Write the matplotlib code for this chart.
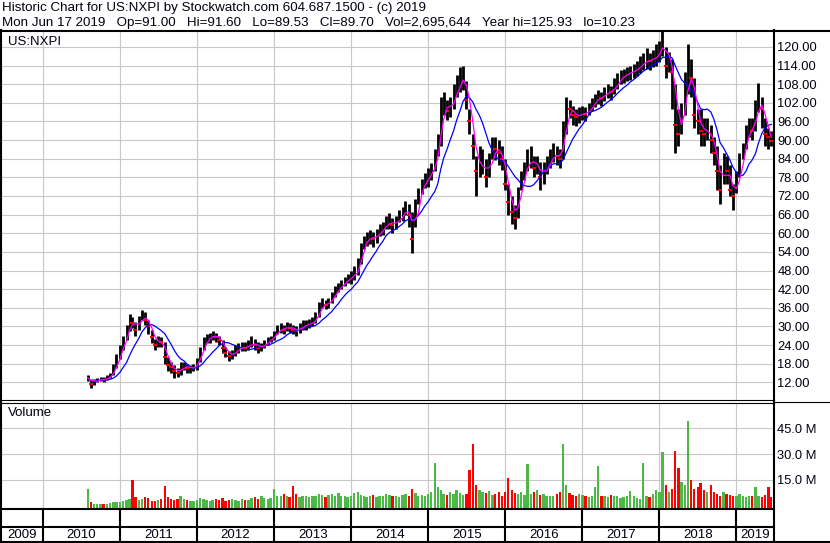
import matplotlib
matplotlib.use('Agg')
import matplotlib.pyplot as plt
import matplotlib.dates as mdates
import numpy as np
import pandas as pd

plt.rcParams['font.family'] = ['Liberation Sans', 'DejaVu Sans']

# ---------------- data (semi-monthly) ----------------
close_2010 = [13.5, 11.5, 12.5, 12.8, 13.0, 12.8, 13.5, 14.2, 16.5, 19.5]
high_2010 = [14.5, 13.2, 13.2, 13.5, 13.8, 13.8, 14.5, 15.0, 17.8, 21.0]
low_2010 = [12.5, 10.2, 11.2, 12.0, 12.3, 12.2, 12.8, 13.3, 14.2, 16.5]

close_2011 = [22.5, 25.5, 28.0, 32.5, 31.0, 29.0, 32.0, 34.0, 32.0, 30.0, 26.5, 24.0,
              25.5, 25.0, 20.0, 17.5, 16.8, 15.5, 15.0, 17.0, 17.5, 16.5, 16.5, 16.8]
high_2011 = [24.0, 27.0, 30.5, 34.0, 33.0, 31.5, 33.5, 35.3, 34.5, 32.0, 29.0, 26.0,
             27.0, 26.5, 25.0, 20.0, 18.5, 17.5, 16.5, 18.5, 18.5, 18.0, 17.5, 18.0]
low_2011 = [19.5, 22.5, 25.5, 28.5, 29.5, 27.0, 29.0, 32.0, 30.5, 27.5, 24.5, 22.5,
            23.5, 23.5, 18.0, 15.5, 15.0, 13.5, 13.8, 14.5, 16.0, 15.0, 15.0, 15.5]

close_2012 = [18.5, 22.0, 25.0, 26.0, 26.5, 27.5, 26.5, 25.5, 23.0, 21.5, 20.5, 21.0,
              22.5, 23.0, 23.5, 23.0, 24.0, 25.0, 24.0, 23.0, 23.5, 24.5, 25.5, 26.0]
high_2012 = [19.8, 23.5, 26.5, 27.5, 28.0, 28.5, 28.0, 27.0, 25.5, 23.5, 22.0, 22.5,
             24.0, 24.5, 25.0, 25.0, 25.5, 27.0, 26.0, 25.0, 24.5, 25.5, 26.5, 27.0]
low_2012 = [16.0, 18.5, 22.5, 24.5, 24.5, 25.5, 25.0, 24.0, 21.5, 20.0, 19.0, 19.5,
            20.5, 21.5, 22.0, 22.0, 22.5, 23.5, 22.5, 21.5, 22.0, 23.0, 24.0, 25.0]

close_2013 = [27.5, 29.0, 29.5, 29.0, 30.0, 29.5, 29.0, 28.5, 29.5, 30.5, 30.5, 31.0,
              31.5, 32.5, 36.5, 37.5, 37.0, 37.5, 39.5, 41.5, 42.5, 43.5, 44.5, 45.5]
high_2013 = [28.5, 30.5, 31.0, 30.5, 31.5, 31.0, 30.5, 30.0, 31.0, 32.0, 32.0, 32.5,
             33.0, 34.5, 38.0, 39.0, 38.5, 39.0, 41.0, 43.0, 44.0, 45.0, 46.0, 47.0]
low_2013 = [25.5, 27.5, 28.0, 27.5, 28.5, 28.0, 27.5, 27.0, 28.0, 29.0, 29.0, 29.5,
            30.0, 31.0, 33.0, 36.0, 35.5, 36.0, 37.5, 39.5, 41.0, 42.0, 43.0, 44.0]

close_2014 = [46.0, 47.5, 48.5, 55.0, 57.0, 58.5, 59.0, 58.0, 59.5, 61.0, 61.5, 63.5,
              64.0, 62.5, 63.5, 65.5, 66.0, 68.5, 66.0, 58.0, 69.0, 72.5, 75.5, 77.5]
high_2014 = [48.0, 49.5, 52.0, 57.0, 59.0, 60.5, 61.0, 60.5, 61.5, 63.0, 63.5, 65.5,
             66.5, 65.0, 65.5, 67.5, 68.5, 70.5, 69.5, 67.0, 71.0, 74.5, 77.5, 79.5]
low_2014 = [43.5, 45.0, 46.5, 50.0, 55.0, 56.0, 56.5, 55.5, 57.0, 59.0, 59.5, 61.5,
            61.5, 60.0, 61.5, 63.5, 64.0, 66.0, 62.0, 53.5, 62.0, 69.5, 72.5, 74.5]

close_2015 = [78.5, 80.0, 84.0, 88.0, 100.0, 102.0, 99.5, 101.0, 104.0, 108.0, 109.0, 111.0,
              103.0, 96.0, 88.0, 80.0, 82.0, 83.0, 78.0, 82.0, 88.0, 87.0, 86.0, 84.0]
high_2015 = [81.0, 82.5, 87.0, 92.0, 104.0, 105.5, 103.0, 104.0, 108.0, 111.0, 113.5, 114.0,
             109.0, 100.0, 92.0, 85.0, 88.0, 87.0, 84.0, 86.0, 91.0, 91.0, 90.0, 88.0]
low_2015 = [75.0, 77.0, 80.0, 85.0, 88.0, 98.0, 96.5, 97.5, 100.0, 104.0, 105.5, 106.0,
            100.0, 92.0, 84.0, 72.0, 78.0, 79.0, 75.0, 78.0, 84.0, 83.5, 82.0, 80.5]

close_2016 = [76.0, 70.0, 67.0, 65.0, 72.0, 78.0, 80.0, 84.0, 84.0, 81.0, 82.0, 78.0,
              80.0, 82.0, 84.0, 86.0, 85.0, 84.0, 92.0, 101.0, 100.0, 98.0, 97.5, 98.0]
high_2016 = [84.0, 76.0, 72.0, 69.0, 75.0, 80.0, 83.0, 87.0, 88.0, 85.0, 85.0, 83.0,
             83.0, 85.0, 87.0, 89.0, 88.0, 87.0, 96.0, 104.0, 103.0, 101.0, 100.0, 100.5]
low_2016 = [74.0, 66.0, 63.0, 61.5, 65.0, 74.0, 77.0, 80.0, 81.0, 78.0, 79.0, 74.0,
            76.0, 79.0, 81.0, 83.0, 82.0, 81.0, 84.0, 92.0, 97.0, 95.0, 94.5, 95.5]

close_2017 = [99.0, 98.5, 100.0, 101.5, 103.0, 104.0, 103.5, 105.0, 106.0, 105.5, 107.5, 109.0,
              110.5, 111.0, 111.5, 112.0, 112.5, 113.0, 114.5, 115.0, 116.0, 115.5, 116.5, 117.0]
high_2017 = [101.0, 100.5, 102.0, 103.5, 105.0, 106.0, 105.5, 107.0, 108.0, 107.5, 110.0, 111.5,
             112.5, 113.0, 113.5, 114.0, 114.5, 115.5, 117.0, 118.0, 119.5, 118.0, 119.0, 121.0]
low_2017 = [96.5, 96.0, 98.0, 99.5, 100.5, 101.5, 101.0, 102.5, 103.5, 103.0, 105.0, 106.5,
            108.0, 108.5, 109.0, 109.5, 110.0, 110.5, 111.5, 112.5, 113.0, 112.5, 113.5, 114.0]

close_2018 = [119.0, 123.0, 114.0, 116.0, 112.0, 95.0, 92.0, 98.0, 106.0, 113.0, 110.0, 98.0,
              96.0, 93.0, 92.0, 94.0, 90.0, 86.0, 80.0, 74.0, 82.0, 80.0, 74.0, 72.0]
high_2018 = [122.0, 125.93, 120.0, 118.5, 116.0, 108.0, 100.0, 102.0, 112.0, 121.0, 116.0, 110.0,
             100.0, 100.0, 97.0, 97.0, 95.0, 91.0, 88.0, 82.0, 86.0, 85.0, 82.0, 76.0]
low_2018 = [115.0, 117.0, 110.0, 112.0, 100.0, 86.0, 88.0, 92.0, 98.0, 105.0, 104.0, 94.0,
            92.0, 88.0, 88.0, 90.0, 86.0, 82.0, 74.0, 69.5, 76.0, 76.0, 72.0, 67.5]

close_2019 = [77.0, 82.0, 87.0, 92.0, 94.0, 93.0, 100.0, 104.0, 100.0, 92.0, 91.0, 89.7]
high_2019 = [80.0, 86.0, 89.0, 95.0, 97.0, 97.0, 103.0, 108.5, 104.0, 97.0, 94.0, 93.0]
low_2019 = [73.0, 78.0, 84.0, 87.0, 91.0, 90.0, 93.0, 99.0, 94.0, 88.0, 87.0, 88.0]

# volume in millions of shares
vol_2010 = [10.0, 2.0, 1.2, 1.0, 1.0, 0.8, 1.0, 1.5, 2.0, 2.0]
vol_2011 = [2.5, 3.0, 3.5, 4.0, 15.0, 5.0, 3.5, 4.0, 5.0, 4.5, 3.0, 3.0,
            3.5, 4.0, 11.5, 5.0, 4.0, 3.5, 4.0, 6.0, 4.0, 3.5, 3.0, 3.0]
vol_2012 = [3.5, 4.5, 4.0, 3.5, 3.0, 3.5, 4.0, 3.5, 4.5, 3.0, 3.5, 4.0,
            3.5, 3.0, 4.0, 3.5, 3.5, 4.5, 5.0, 4.0, 6.0, 4.5, 4.0, 4.5]
vol_2013 = [10.0, 6.0, 5.5, 7.0, 6.0, 5.0, 11.5, 7.0, 5.0, 5.5, 6.0, 5.0,
            5.5, 6.0, 7.0, 6.5, 5.0, 6.5, 7.0, 6.0, 7.5, 5.5, 6.0, 5.0]
vol_2014 = [6.0, 7.5, 8.0, 6.5, 6.0, 5.0, 5.5, 6.5, 5.0, 6.0, 5.5, 7.0,
            6.5, 5.5, 6.0, 5.0, 6.5, 7.0, 6.0, 10.0, 7.5, 6.0, 6.5, 5.5]
vol_2015 = [7.0, 8.0, 25.0, 11.0, 9.0, 7.0, 6.5, 8.0, 7.0, 9.0, 7.5, 6.5,
            7.0, 21.0, 36.0, 12.0, 9.0, 8.0, 7.5, 8.5, 6.5, 7.0, 8.0, 6.0]
vol_2016 = [8.0, 16.0, 9.0, 7.5, 7.0, 8.0, 6.5, 24.0, 7.0, 8.0, 9.0, 6.5,
            7.0, 6.0, 5.5, 6.0, 7.0, 8.0, 36.0, 12.0, 7.5, 6.5, 6.0, 7.0]
vol_2017 = [6.5, 5.5, 5.0, 6.0, 11.0, 23.0, 5.5, 6.0, 5.0, 6.5, 5.5, 6.0,
            4.5, 5.0, 6.0, 8.5, 5.5, 4.5, 4.0, 25.0, 6.0, 5.0, 7.0, 9.0]
vol_2018 = [8.0, 31.0, 12.0, 8.0, 10.0, 32.0, 22.0, 14.0, 12.0, 49.0, 15.0, 10.0,
            11.0, 13.0, 9.0, 8.0, 12.0, 8.0, 7.0, 6.0, 8.0, 7.0, 6.5, 6.0]
vol_2019 = [5.5, 7.0, 6.0, 5.0, 6.0, 5.5, 11.0, 6.0, 5.0, 6.5, 11.0, 5.0]

price_ticks = [12, 18, 24, 30, 36, 42, 48, 54, 60, 66, 72, 78, 84, 90, 96, 102, 108, 114, 120]
vol_ticks = [15, 30, 45]
year_labels = [2009, 2010, 2011, 2012, 2013, 2014, 2015, 2016, 2017, 2018, 2019]

header1 = "Historic Chart for US:NXPI by Stockwatch.com 604.687.1500 - (c) 2019"
header2 = ("Mon Jun 17 2019   Op=91.00   Hi=91.60   Lo=89.53   Cl=89.70   "
           "Vol=2,695,644   Year hi=125.93   lo=10.23")

# ---------------- assemble ----------------
years = ['2010', '2011', '2012', '2013', '2014', '2015', '2016', '2017', '2018', '2019']
close = np.array(sum([globals()['close_' + y] for y in years], []))
high = np.array(sum([globals()['high_' + y] for y in years], []))
low = np.array(sum([globals()['low_' + y] for y in years], []))
vol = np.array(sum([globals()['vol_' + y] for y in years], []))
dates = pd.date_range('2010-08-01', '2019-06-16', freq='SMS')
n = min(len(dates), len(close))
dates, close, high, low, vol = dates[:n], close[:n], high[:n], low[:n], vol[:n]
dnum = mdates.date2num(dates.to_pydatetime())

ma_fast = pd.Series(close).rolling(3, min_periods=1).mean().values
ma_slow = pd.Series(close).rolling(9, min_periods=1).mean().values
up = np.r_[True, close[1:] >= close[:-1]]

W, H = 830, 543
fig = plt.figure(figsize=(W / 100, H / 100), dpi=100)
fig.patch.set_facecolor('white')


def rect(x0, y0, x1, y1):
    return [x0 / W, 1 - y1 / H, (x1 - x0) / W, (y1 - y0) / H]


d2010 = mdates.date2num(pd.Timestamp('2010-01-01'))
PXY = 77.06


def px2num(px):
    return d2010 + (px - 43) / PXY * 365.25


XL = (px2num(2), px2num(774))
year_starts = [mdates.date2num(pd.Timestamp(f'{y}-01-01')) for y in range(2010, 2020)]
GRID = '#c8c8c8'
FS = 9
TXT = '#000010'

# price panel
axp = fig.add_axes(rect(2, 32, 774, 400))
axp.set_xlim(XL)
axp.set_ylim(6.30, 124.81)
axp.set_xticks(year_starts)
axp.set_xticklabels([])
axp.set_yticks(price_ticks)
axp.set_yticklabels([f'{t:.2f}' for t in price_ticks])
axp.yaxis.tick_right()
axp.tick_params(axis='both', length=0)
axp.tick_params(axis='y', pad=2.5, labelsize=FS + 0.3, labelcolor=TXT)
axp.grid(True, color=GRID, lw=0.8)
axp.set_axisbelow(True)
for s in axp.spines.values():
    s.set_visible(False)
axp.vlines(dnum, low, high, color='black', lw=2.0, zorder=2)
axp.plot(dnum[~up], close[~up], ls='none', marker='_', ms=3, mew=1.4, color='red', zorder=3)
axp.plot(dnum, ma_slow, color='#0000ff', lw=0.9, zorder=4)
axp.plot(dnum, ma_fast, color='#ff00ff', lw=0.9, zorder=5)

# volume panel
VB = -1.25
axv = fig.add_axes(rect(2, 403, 774, 508))
axv.set_xlim(XL)
axv.set_ylim(VB, 59.68)
axv.set_xticks(year_starts)
axv.set_xticklabels([])
axv.set_yticks(vol_ticks)
axv.set_yticklabels([f'{t:.1f} M' for t in vol_ticks])
axv.yaxis.tick_right()
axv.tick_params(axis='both', length=0)
axv.tick_params(axis='y', pad=2.5, labelsize=FS + 0.3, labelcolor=TXT)
axv.grid(True, color=GRID, lw=0.8)
axv.set_axisbelow(True)
for s in axv.spines.values():
    s.set_visible(False)
vcol = np.where(up, '#4cb848', '#ff0000')
axv.bar(dnum, vol - VB, bottom=VB, width=11, color=vcol, linewidth=0, zorder=2)

# blank row and year row
axb = fig.add_axes(rect(2, 510, 774, 526))
axy = fig.add_axes(rect(2, 527, 774, 541))
for a in (axb, axy):
    a.set_xlim(XL)
    a.set_ylim(0, 1)
    a.axis('off')
    for ys in year_starts:
        a.axvline(ys, color='black', lw=1.5)
bounds = [XL[0]] + year_starts + [XL[1]]
for i, yl in enumerate(year_labels):
    axy.text((bounds[i] + bounds[i + 1]) / 2, 0.4, str(yl), ha='center', va='center',
             fontsize=FS + 0.5, color=TXT)

# overlay for frame and captions
ov = fig.add_axes([0, 0, 1, 1], zorder=10)
ov.set_xlim(0, W)
ov.set_ylim(H, 0)
ov.axis('off')
ov.patch.set_alpha(0)
LW2 = 1.5
ov.plot([0, W], [30.5, 30.5], color='black', lw=LW2)
ov.plot([1, 1], [30, H], color='black', lw=LW2)
ov.plot([774, 774], [30, H], color='black', lw=LW2)
ov.plot([0, 774], [400, 400], color='black', lw=0.8)
ov.plot([0, 774], [403, 403], color='black', lw=0.8)
ov.plot([774, W], [401.5, 401.5], color='black', lw=0.8)
ov.plot([0, 774], [509, 509], color='black', lw=LW2)
ov.plot([0, 774], [526.5, 526.5], color='black', lw=LW2)
ov.plot([0, W], [541.8, 541.8], color='black', lw=LW2)
ov.text(2, 8, header1, fontsize=9.65, va='center', ha='left', color=TXT)
ov.text(2, 23, header2, fontsize=9.65, va='center', ha='left', color=TXT)
ov.text(8, 42, 'US:NXPI', fontsize=FS + 0.5, va='center', ha='left', color=TXT)
ov.text(8, 413, 'Volume', fontsize=FS + 0.5, va='center', ha='left', color=TXT)

fig.savefig('out.png', dpi=100)
